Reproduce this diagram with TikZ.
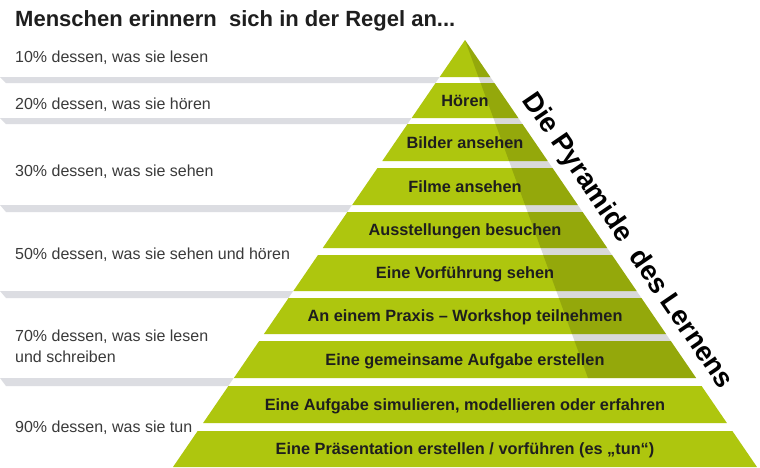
\documentclass[tikz,border=0pt]{standalone}
\usepackage{fontspec}
\setmainfont{Liberation Sans}
\definecolor{lgreen}{HTML}{AEC60E}
\definecolor{barg}{HTML}{DCDDE2}
\definecolor{txt}{HTML}{3A3A3A}
\definecolor{btxt}{HTML}{1E1E1E}
\newcommand\pyrband[2]{% top, bottom
  \pgfmathsetmacro\xlt{465-0.6838*(#1-40)}
  \pgfmathsetmacro\xrt{465+0.6838*(#1-40)}
  \pgfmathsetmacro\xlb{465-0.6838*(#2-40)}
  \pgfmathsetmacro\xrb{465+0.6838*(#2-40)}
  \fill[lgreen] (\xlt,#1) -- (\xrt,#1) -- (\xrb,#2) -- (\xlb,#2) -- cycle;
}
\newcommand\greybar[2]{% top, bottom
  \fill[barg] (0,#1) -- (470,#1) -- (470,#2) -- (6,#2) -- cycle;
}
\tikzset{
  leftlabel/.style={anchor=base west, inner sep=0pt, text=txt, font=\fontsize{16}{19}\selectfont},
  bandlabel/.style={anchor=base, inner sep=0pt, text=btxt, font=\bfseries\fontsize{16.3}{19}\selectfont},
  titlelabel/.style={anchor=base west, inner sep=0pt, text=btxt, font=\bfseries\fontsize{22}{25}\selectfont},
  pyrtitle/.style={anchor=base west, inner sep=0pt, text=black, rotate=-55.63, font=\bfseries\fontsize{27.5}{31}\selectfont},
}
\begin{document}
\begin{tikzpicture}[x=1pt,y=-1pt]
\useasboundingbox (0,0) rectangle (760,467);
\fill[white] (0,0) rectangle (760,467);
% grey separator bars
\greybar{77}{83}
\greybar{118}{124}
\greybar{205}{212}
\greybar{291}{298}
\greybar{378}{386}
% white pyramid background
\fill[white] (465,40) -- (757.0,467) -- (173.0,467) -- cycle;
% top triangle
\fill[lgreen] (465,40) -- (490.3,77) -- (439.7,77) -- cycle;
\pyrband{83}{118}
\pyrband{124}{161}
\pyrband{168}{205}
\pyrband{212}{248}
\pyrband{255}{291}
\pyrband{298}{334}
\pyrband{341}{378}
\pyrband{386}{423}
\pyrband{431}{467}
% darker shaded side
\fill[black, opacity=0.15] (465,40) -- (696.1,378) -- (588,378) -- cycle;
% title
\node[titlelabel] (title) at (15,26) {Menschen erinnern\ \ sich in der Regel an...};
% left labels
\node[leftlabel] (l10) at (15,62) {10\% dessen, was sie lesen};
\node[leftlabel] (l20) at (15,109) {20\% dessen, was sie hören};
\node[leftlabel] (l30) at (15,176) {30\% dessen, was sie sehen};
\node[leftlabel] (l50) at (15,259) {50\% dessen, was sie sehen und hören};
\node[leftlabel] (l70a) at (15,341) {70\% dessen, was sie lesen};
\node[leftlabel] (l70b) at (15,362) {und schreiben};
\node[leftlabel] (l90) at (15,432) {90\% dessen, was sie tun};
% band labels
\node[bandlabel] (b1) at (465,106.4) {Hören};
\node[bandlabel] (b2) at (465,148.4) {Bilder ansehen};
\node[bandlabel] (b3) at (465,192.4) {Filme ansehen};
\node[bandlabel] (b4) at (465,235.9) {Ausstellungen besuchen};
\node[bandlabel] (b5) at (465,278.9) {Eine Vorführung sehen};
\node[bandlabel] (b6) at (465,321.9) {An einem Praxis – Workshop teilnehmen};
\node[bandlabel] (b7) at (465,365.4) {Eine gemeinsame Aufgabe erstellen};
\node[bandlabel] (b8) at (465,410.4) {Eine Aufgabe simulieren, modellieren oder erfahren};
\node[bandlabel] (b9) at (465,454.9) {Eine Präsentation erstellen / vorführen (es „tun“)};
% rotated title
\node[pyrtitle] (pyr) at (521.7,100) {Die Pyramide\ \ des Lernens};
\end{tikzpicture}
\end{document}
